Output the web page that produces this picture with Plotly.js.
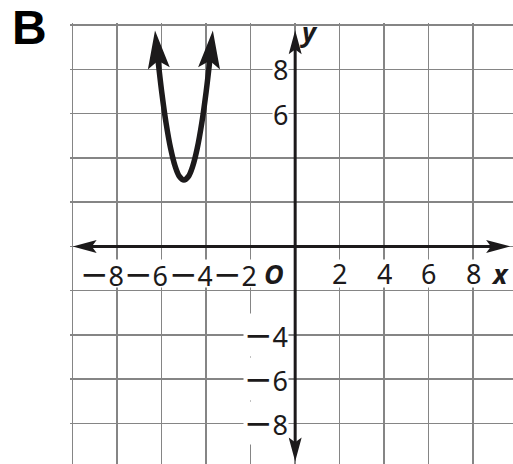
<!DOCTYPE html>
<html>
<head>
<meta charset="utf-8">
<script src="https://cdn.plot.ly/plotly-3.0.1.min.js"></script>
<style>
  html, body { margin: 0; padding: 0; background: #fff; }
  #chart { width: 513px; height: 464px; }
</style>
</head>
<body>
<div id="chart"></div>
<script>
// Parabola points (vertex at (-5, 3)); first and last points are the arrow tips
const curveX = [-6.3, -6.2, -6.0, -5.8, -5.6, -5.4, -5.2, -5.0, -4.8, -4.6, -4.4, -4.2, -4.0, -3.8, -3.7];
const curveY = [9.76, 8.76, 7.0, 5.56, 4.44, 3.64, 3.16, 3.0, 3.16, 3.64, 4.44, 5.56, 7.0, 8.76, 9.76];

// Coordinate axes, from arrow tip to arrow tip
const xAxisEnds = [-10, 9.66];
const yAxisEnds = [-9.73, 9.77];

// Grid lines every 2 units
const gridVals = [-10, -8, -6, -4, -2, 0, 2, 4, 6, 8, 10];

// Tick labels written next to the axes
const xTickVals = [-8, -6, -4, -2, 2, 4, 6, 8];
const xTickText = ['−8', '−6', '−4', '−2', '2', '4', '6', '8'];
const yTickVals = [8, 6, -4, -6, -8];
const yTickText = ['8', '6', '−4', '−6', '−8'];

const W = 513, H = 464;
const margin = { l: 70, r: 0, t: 23, b: 0 };
const xRange = [-10.12, 9.79];
const yRange = [-9.84, 10.1];
const pxX = (W - margin.l - margin.r) / (xRange[1] - xRange[0]);
const pxY = (H - margin.t - margin.b) / (yRange[1] - yRange[0]);

const INK = '#1c1a1b';
const FONT = 'Noto Sans, Open Sans, sans-serif';

// unit direction (in pixels, y up) from point b toward point a
function dirPx(a, b) {
  const dx = (a[0] - b[0]) * pxX, dy = (a[1] - b[1]) * pxY;
  const n = Math.hypot(dx, dy);
  return [dx / n, dy / n];
}
function offset(p, u, dist) {
  return [p[0] + u[0] * dist / pxX, p[1] + u[1] * dist / pxY];
}
// barbed arrowhead with its tip on `tip`, pointing away from `prev`
function headPath(tip, prev, len, wid, notch) {
  const u = dirPx(tip, prev);
  const n = [-u[1], u[0]];
  const pix = [
    [0, 0],
    [-len * u[0] + wid / 2 * n[0], -len * u[1] + wid / 2 * n[1]],
    [-notch * len * u[0], -notch * len * u[1]],
    [-len * u[0] - wid / 2 * n[0], -len * u[1] - wid / 2 * n[1]]
  ];
  const pts = pix.map(q => [tip[0] + q[0] / pxX, tip[1] + q[1] / pxY]);
  return 'M' + pts.map(p => p[0].toFixed(4) + ',' + p[1].toFixed(4)).join('L') + 'Z';
}
function headShape(tip, prev, len, wid) {
  return {
    type: 'path', xref: 'x', yref: 'y', layer: 'above',
    path: headPath(tip, prev, len, wid, 0.8),
    fillcolor: INK, line: { width: 0 }
  };
}

// Curve arrowheads
const CH_LEN = 38, CH_WID = 22;
const n = curveX.length;
const startTip = [curveX[0], curveY[0]], startPrev = [curveX[1], curveY[1]];
const endTip = [curveX[n - 1], curveY[n - 1]], endPrev = [curveX[n - 2], curveY[n - 2]];

// pull the stroke back so it ends inside each arrowhead
const trim = CH_LEN * 0.7;
const uS = dirPx(startPrev, startTip), uE = dirPx(endPrev, endTip);
const sCut = offset(startTip, uS, trim), eCut = offset(endTip, uE, trim);
function farEnough(i, tip) {
  const d = Math.hypot((curveX[i] - tip[0]) * pxX, (curveY[i] - tip[1]) * pxY);
  return d > trim;
}
const lineX = [sCut[0]], lineY = [sCut[1]];
for (let i = 1; i < n - 1; i++) {
  if (farEnough(i, startTip) && farEnough(i, endTip)) { lineX.push(curveX[i]); lineY.push(curveY[i]); }
}
lineX.push(eCut[0]); lineY.push(eCut[1]);

// Axis arrows
const AH_LEN = 24, AH_WID = 13;
const xl = [xAxisEnds[0], 0], xr = [xAxisEnds[1], 0];
const yb = [0, yAxisEnds[0]], yt = [0, yAxisEnds[1]];
const aTrim = AH_LEN * 0.7;
const xlC = offset(xl, dirPx(xr, xl), aTrim), xrC = offset(xr, dirPx(xl, xr), aTrim);
const ybC = offset(yb, dirPx(yt, yb), aTrim), ytC = offset(yt, dirPx(yb, yt), aTrim);

const shapes = [
  { type: 'line', xref: 'x', yref: 'y', x0: xlC[0], y0: 0, x1: xrC[0], y1: 0, line: { color: INK, width: 3 }, layer: 'above' },
  { type: 'line', xref: 'x', yref: 'y', x0: 0, y0: ybC[1], x1: 0, y1: ytC[1], line: { color: INK, width: 3 }, layer: 'above' },
  headShape(xl, xr, AH_LEN, AH_WID),
  headShape(xr, xl, AH_LEN, AH_WID),
  headShape(yb, yt, AH_LEN, AH_WID),
  headShape(yt, yb, AH_LEN, AH_WID),
  headShape(startTip, startPrev, CH_LEN, CH_WID),
  headShape(endTip, endPrev, CH_LEN, CH_WID)
];

// the long minus sign used in the labels
function withMinus(t) {
  return t.replace('−', '<span style="font-family:DejaVu Sans;font-size:34px">−</span>');
}

const labelFont = { family: FONT, size: 27, color: INK };
const annotations = [];
xTickVals.forEach((v, i) => {
  const neg = v < 0;
  annotations.push({
    x: v, y: -1.22, xref: 'x', yref: 'y', text: withMinus(xTickText[i]), showarrow: false,
    xanchor: neg ? 'right' : 'center', yanchor: 'middle', xshift: neg ? 7.5 : 0,
    height: 27, valign: 'middle',
    font: labelFont, bgcolor: '#ffffff', borderpad: 0
  });
});
yTickVals.forEach((v, i) => {
  const neg = v < 0;
  annotations.push({
    x: 0, y: v, xref: 'x', yref: 'y', text: withMinus(yTickText[i]), showarrow: false,
    xanchor: 'right', yanchor: 'middle', xshift: -6,
    height: neg ? 42 : 30, valign: 'middle',
    font: labelFont, bgcolor: '#ffffff', borderpad: 0
  });
});
annotations.push(
  { x: -0.97, y: -1.22, xref: 'x', yref: 'y', text: '<b><i>O</i></b>', showarrow: false,
    xanchor: 'center', yanchor: 'middle', height: 27, valign: 'middle',
    font: { family: FONT, size: 27, color: INK }, bgcolor: '#ffffff', borderpad: 0 },
  { x: 9.19, y: -1.22, xref: 'x', yref: 'y', text: '<b><i>x</i></b>', showarrow: false,
    xanchor: 'center', yanchor: 'middle', height: 27, valign: 'middle',
    font: { family: FONT, size: 27, color: INK }, bgcolor: '#ffffff', borderpad: 0 },
  { x: 0.61, y: 9.72, xref: 'x', yref: 'y', text: '<b><i>y</i></b>', showarrow: false,
    xanchor: 'center', yanchor: 'middle', font: { family: FONT, size: 27, color: INK } },
  { x: (29 - margin.l) / (W - margin.l - margin.r), y: (H - 28) / (H - margin.t - margin.b),
    xref: 'paper', yref: 'paper', text: '<b>B</b>', showarrow: false,
    xanchor: 'center', yanchor: 'middle', font: { family: 'Liberation Sans, Arial, sans-serif', size: 48, color: '#000' } }
);

const axisCommon = {
  tickvals: gridVals, showticklabels: false, ticks: '',
  showgrid: true, gridcolor: '#858585', gridwidth: 1.5,
  zeroline: false, showline: false, fixedrange: true
};

const data = [{
  type: 'scatter', mode: 'lines', x: lineX, y: lineY,
  line: { color: INK, width: 5.5, shape: 'spline', smoothing: 1 },
  hoverinfo: 'skip', cliponaxis: false
}];

const layout = {
  width: W, height: H, margin: margin,
  paper_bgcolor: '#ffffff', plot_bgcolor: '#ffffff',
  showlegend: false,
  xaxis: Object.assign({ range: xRange }, axisCommon),
  yaxis: Object.assign({ range: yRange }, axisCommon),
  shapes: shapes,
  annotations: annotations
};

Plotly.newPlot('chart', data, layout, { displayModeBar: false, staticPlot: true });
</script>
</body>
</html>
